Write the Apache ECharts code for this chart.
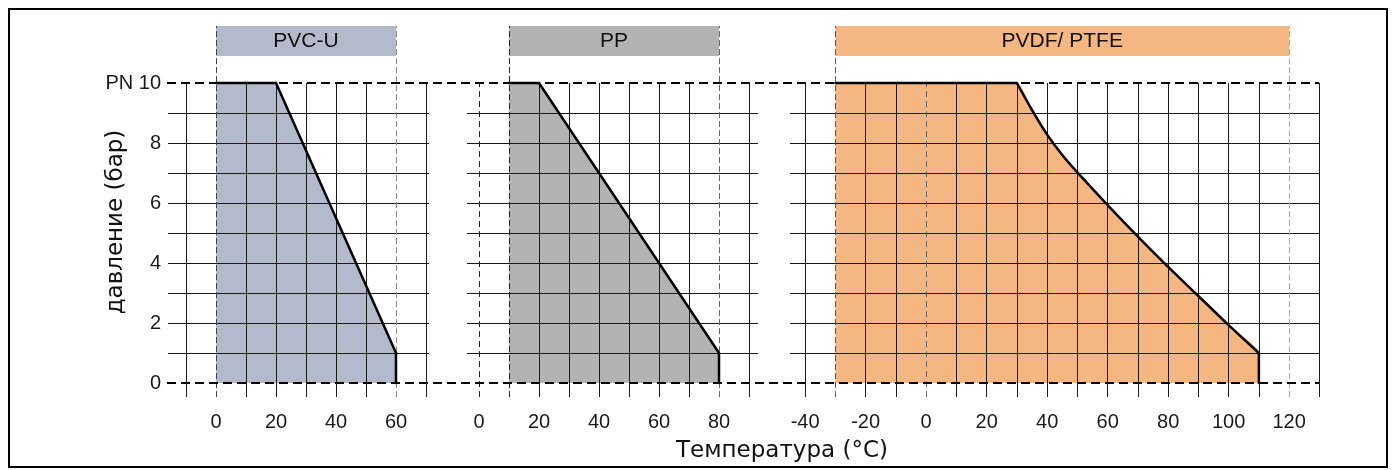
<!DOCTYPE html>
<html>
<head>
<meta charset="utf-8">
<script src="https://cdn.jsdelivr.net/npm/echarts@6/dist/echarts.min.js"></script>
<style>html,body{margin:0;padding:0;background:#fff}#c{width:1396px;height:470px}</style>
</head>
<body>
<div id="c"></div>
<script>
// ---- data ----
const materials = ['PVC-U', 'PP', 'PVDF/ PTFE'];
const pvcTemp = [0, 20, 60, 60];
const pvcPress = [10, 10, 1, 0];
const ppTemp = [10, 20, 80, 80];
const ppPress = [10, 10, 1, 0];
const pvdfTemp = [-30, 30, 35, 40, 45, 50, 60, 70, 80, 90, 100, 110, 110];
const pvdfPress = [10, 10, 9.1, 8.28, 7.6, 7.02, 5.93, 4.88, 3.87, 2.9, 1.93, 1.0, 0];
// material temperature ranges (header bars)
const pvcRange = [0, 60];
const ppRange = [10, 80];
const pvdfRange = [-30, 120];
// tick labels
const pvcTicks = [0, 20, 40, 60];
const ppTicks = [0, 20, 40, 60, 80];
const pvdfTicks = [-40, -20, 0, 20, 40, 60, 80, 100, 120];
const yTicks = [0, 2, 4, 6, 8, 10];
// grid line values
const pvcGridX = [-10, 10, 20, 30, 40, 50, 70];
const ppGridX = [20, 30, 40, 50, 60, 70, 90];
const pvdfGridX = [-40, -20, -10, 10, 20, 30, 40, 50, 60, 70, 80, 90, 100, 110, 130];
const pvcZero = [];
const ppZero = [0];
const pvdfZero = [0];
const gridY = [1, 2, 3, 4, 5, 6, 7, 8, 9];
const yMaxPN = 10;
const yTitle = 'давление (бар)';
const xTitle = 'Температура (°C)';

// ---- layout/style ----
const Y_MIN = -0.47, Y_AX_MIN = -0.5, Y_AX_MAX = 12, HEAD_LO = 10.9, HEAD_HI = 11.9;
const panels = [
  { name: materials[0], temp: pvcTemp, press: pvcPress, range: pvcRange, ticks: pvcTicks, gx: pvcGridX, zero: pvcZero,
    min: -16, max: 71, left: 168, width: 261, color: '#b3bacb', b0: '#444', b1: '#888', z0: '#333', smooth: 0 },
  { name: materials[1], temp: ppTemp, press: ppPress, range: ppRange, ticks: ppTicks, gx: ppGridX, zero: ppZero,
    min: -4, max: 93, left: 467, width: 291, color: '#b3b3b3', b0: '#222', b1: '#666', z0: '#222', smooth: 0 },
  { name: materials[2], temp: pvdfTemp, press: pvdfPress, range: pvdfRange, ticks: pvdfTicks, gx: pvdfGridX, zero: pvdfZero,
    min: -45, max: 130, left: 790, width: 529.4, color: '#f5b781', b0: '#555', b1: '#aaa', z0: '#666', smooth: 0.35 }
];
const TOP = 23, HEIGHT = 375;
const lblFont = 'Liberation Sans';

const grids = [], xAxes = [], yAxes = [], series = [];
panels.forEach((p, i) => {
  grids.push({ left: p.left, top: TOP, width: p.width, height: HEIGHT });
  xAxes.push({
    type: 'value', gridIndex: i, min: p.min, max: p.max,
    axisLine: { show: false }, axisTick: { show: false }, splitLine: { show: false },
    axisLabel: { customValues: p.ticks, margin: 14, fontSize: 20, color: '#1a1a1a', fontFamily: lblFont }
  });
  yAxes.push({
    type: 'value', gridIndex: i, min: Y_AX_MIN, max: Y_AX_MAX,
    show: i === 0,
    axisLine: { show: false }, axisTick: { show: false }, splitLine: { show: false },
    axisLabel: {
      customValues: yTicks, margin: 7, fontSize: 20, color: '#1a1a1a', fontFamily: lblFont,
      formatter: v => (v === yMaxPN ? 'PN ' + v : String(v))
    }
  });
  const data = p.temp.map((t, k) => [t, p.press[k]]);
  const lines = [];
  const solid = { color: '#1a1a1a', width: 1, type: 'solid' };
  gridY.forEach(y => lines.push([{ coord: [p.min, y], lineStyle: solid }, { coord: [p.max, y] }]));
  p.gx.forEach(x => lines.push([{ coord: [x, Y_MIN], lineStyle: solid }, { coord: [x, yMaxPN] }]));
  p.zero.forEach(x => lines.push([{ coord: [x, Y_MIN], lineStyle: { color: p.z0, width: 1, type: [6, 4] } }, { coord: [x, yMaxPN] }]));
  lines.push([{ coord: [p.range[0], Y_MIN], lineStyle: { color: p.b0, width: 1, type: [6, 3] } }, { coord: [p.range[0], HEAD_HI] }]);
  lines.push([{ coord: [p.range[1], Y_MIN], lineStyle: { color: p.b1, width: 1, type: [6, 3] } }, { coord: [p.range[1], HEAD_HI] }]);
  series.push({
    type: 'line', xAxisIndex: i, yAxisIndex: i, data: data, symbol: 'none', silent: true, z: 1,
    smooth: p.smooth ? 0.2 : false,
    lineStyle: { width: 0, opacity: 0 }, areaStyle: { color: p.color, opacity: 1 },
    markLine: { silent: true, symbol: ['none', 'none'], label: { show: false }, animation: false, z: 2, data: lines },
    markArea: {
      silent: true, animation: false, z: 1,
      itemStyle: { color: p.color },
      label: { show: true, position: 'inside', fontSize: 21, color: '#111', fontFamily: lblFont },
      data: [[{ name: p.name, coord: [p.range[0], HEAD_LO] }, { coord: [p.range[1], HEAD_HI] }]]
    }
  });
  // outline: flat top segment, sloping/curved segment, vertical drop
  const n = data.length;
  const parts = [data.slice(0, 2), data.slice(1, n - 1), data.slice(n - 2)];
  parts.forEach((seg, k) => series.push({
    type: 'line', xAxisIndex: i, yAxisIndex: i, data: seg, symbol: 'none', silent: true, z: 10,
    smooth: k === 1 && p.smooth ? p.smooth : false,
    lineStyle: { color: '#000', width: 2.5, join: 'round', cap: 'round' }
  }));
});
// overlay full-width dashed reference lines at 0 and PN 10
grids.push({ left: 167, top: TOP, width: 1152, height: HEIGHT });
xAxes.push({ type: 'value', gridIndex: 3, min: 0, max: 1, show: false });
yAxes.push({ type: 'value', gridIndex: 3, min: Y_AX_MIN, max: Y_AX_MAX, show: false });
[yMaxPN, 0].forEach(v => series.push({
  type: 'line', xAxisIndex: 3, yAxisIndex: 3, data: [[0, v], [1, v]], symbol: 'none', silent: true, z: 6,
  lineStyle: { color: '#000', width: 2.2, type: [9, 5] }
}));

const chart = echarts.init(document.getElementById('c'), null, { renderer: 'canvas' });
chart.setOption({
  animation: false,
  backgroundColor: '#fff',
  grid: grids, xAxis: xAxes, yAxis: yAxes, series: series,
  graphic: [
    { type: 'rect', shape: { x: 9, y: 9, width: 1378, height: 458 }, style: { fill: 'none', stroke: '#000', lineWidth: 2 }, silent: true, z: 100 },
    { type: 'text', x: 116, y: 222, rotation: Math.PI / 2,
      style: { text: yTitle, font: '23px "DejaVu Sans"', fill: '#111', textAlign: 'center', textVerticalAlign: 'middle' } },
    { type: 'text', x: 782, y: 451,
      style: { text: xTitle, font: '23px "DejaVu Sans"', fill: '#111', textAlign: 'center', textVerticalAlign: 'middle' } }
  ]
});
</script>
</body>
</html>
